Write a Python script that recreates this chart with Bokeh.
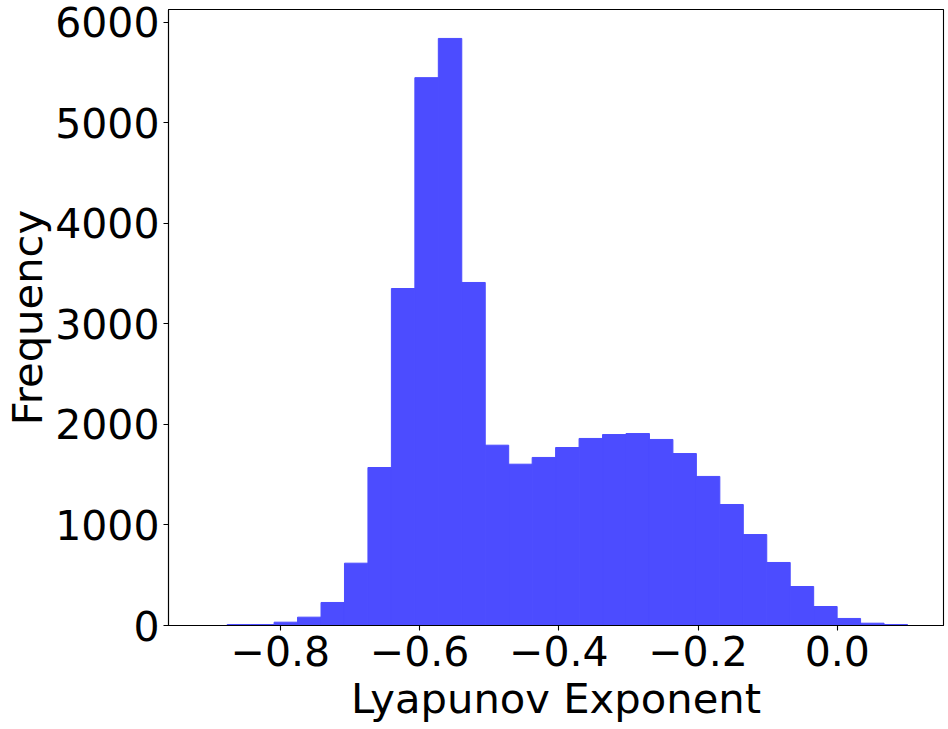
import numpy as np
from bokeh.plotting import figure
from bokeh.models import FixedTicker, CustomJSTickFormatter, Range1d, ColumnDataSource
from bokeh.embed import file_html
from bokeh.resources import INLINE

# Histogram of Lyapunov exponents
bin_start = -0.8764
bin_width = 0.0337
counts = [10, 10, 33, 83, 229, 620, 1572, 3353, 5451, 5841, 3413, 1794, 1605,
          1672, 1771, 1861, 1900, 1910, 1851, 1711, 1483, 1204, 905, 627, 388,
          189, 70, 23, 10]
x_ticks = [-0.8, -0.6, -0.4, -0.2, 0.0]
y_ticks = [0, 1000, 2000, 3000, 4000, 5000, 6000]

edges = bin_start + bin_width * np.arange(len(counts) + 1)
src = ColumnDataSource(dict(left=edges[:-1], right=edges[1:],
                            top=counts, bottom=[0] * len(counts)))

p = figure(width=946, height=727, output_backend="svg", toolbar_location=None,
           x_range=Range1d(-0.9607, 0.1526), y_range=Range1d(0, 6129),
           min_border_left=168, min_border_right=3, min_border_top=9,
           min_border_bottom=102)

BAR = "#4c4cff"
p.quad(left="left", right="right", top="top", bottom="bottom", source=src,
       fill_color=BAR, line_color=BAR, line_width=1)

p.xgrid.visible = False
p.ygrid.visible = False
p.outline_line_color = "black"
p.outline_line_width = 1.1

FONT = "DejaVu Sans"
for ax in (p.xaxis[0], p.yaxis[0]):
    ax.major_label_text_font = FONT
    ax.major_label_text_font_size = "41px"
    ax.major_label_text_color = "black"
    ax.axis_label_text_font = FONT
    ax.axis_label_text_font_size = "41.7px"
    ax.axis_label_text_font_style = "normal"
    ax.axis_label_text_color = "black"
    ax.minor_tick_line_color = None
    ax.major_tick_in = 0
    ax.major_tick_out = 5
    ax.major_label_standoff = 5
    ax.axis_line_color = "black"
    ax.axis_line_width = 1.1
    ax.major_tick_line_width = 1.1

p.xaxis.axis_label = "Lyapunov Exponent"
p.yaxis.axis_label = "Frequency"
p.xaxis.ticker = FixedTicker(ticks=x_ticks)
p.yaxis.ticker = FixedTicker(ticks=y_ticks)
p.xaxis.formatter = CustomJSTickFormatter(
    code='return (tick < -1e-9 ? "\\u2212" : "") + Math.abs(tick).toFixed(1);')
p.yaxis.formatter = CustomJSTickFormatter(code='return Math.round(tick).toString();')
p.xaxis.axis_label_standoff = 5
p.yaxis.axis_label_standoff = 0
p.yaxis.major_label_standoff = 4

open("out.html", "w").write(file_html(p, INLINE))
